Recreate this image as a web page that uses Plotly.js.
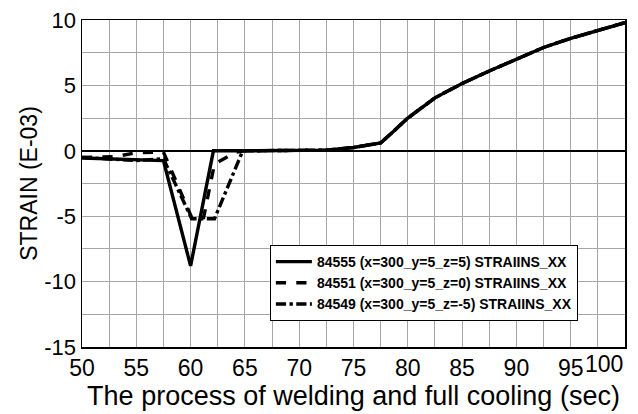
<!DOCTYPE html>
<html>
<head>
<meta charset="utf-8">
<script src="https://cdn.plot.ly/plotly-3.0.1.min.js"></script>
<style>html,body{margin:0;padding:0;background:#fff;}#chart{width:638px;height:414px;}</style>
</head>
<body>
<div id="chart"></div>
<script>
// Data
const names = [
  "84555 (x=300_y=5_z=5) STRAIINS_XX",
  "84551 (x=300_y=5_z=0) STRAIINS_XX",
  "84549 (x=300_y=5_z=-5) STRAIINS_XX"
];
const tailX = [67, 70, 72.5, 75, 77.5, 78.7, 80, 82.5, 85, 87.5, 90, 92.5, 95, 97.5, 100];
const tailY = [0, 0, 0.05, 0.25, 0.6, 1.5, 2.5, 4.05, 5.15, 6.1, 7.0, 7.9, 8.6, 9.2, 9.8];

const s1x = [50, 55, 57.5, 60, 62.1, 65];
const s1y = [-0.55, -0.65, -0.75, -8.8, 0, 0];
const s2x = [50, 53, 55, 57.5, 60.1, 61.2, 62.2, 64.2, 65];
const s2y = [-0.5, -0.45, -0.15, -0.1, -5.1, -5.1, -1.0, -0.1, 0];
const s3x = [50, 55, 57.5, 60.1, 62.2, 64.7, 65];
const s3y = [-0.5, -0.75, -0.6, -5.2, -5.2, -0.2, 0];

// Grid every 2.5, labels every 5 (100 is drawn shifted left, as in the reference)
const xGridVals = [50, 52.5, 55, 57.5, 60, 62.5, 65, 67.5, 70, 72.5, 75, 77.5, 80, 82.5, 85, 87.5, 90, 92.5, 95, 97.5, 100];
const xGridText = ["50", "", "55", "", "60", "", "65", "", "70", "", "75", "", "80", "", "85", "", "90", "", "95", "", ""];
const yGridVals = [-15, -12.5, -10, -7.5, -5, -2.5, 0, 2.5, 5, 7.5, 10];
const yGridText = ["-15", "", "-10", "", "-5", "", "0", "", "5", "", "10"];

const dashes = ["solid", "dash", "dashdot"];
const xs = [s1x.concat(tailX), s2x.concat(tailX), s3x.concat(tailX)];
const ys = [s1y.concat(tailY), s2y.concat(tailY), s3y.concat(tailY)];

const traces = names.map((n, i) => ({
  x: xs[i], y: ys[i], name: n, mode: "lines", type: "scatter",
  line: {color: "#000", width: 3.4, dash: dashes[i]}
}));

const FONT = "Liberation Sans, Arial, sans-serif";
const layout = {
  width: 638, height: 414,
  margin: {l: 82, r: 13, t: 20, b: 67},
  paper_bgcolor: "#fff", plot_bgcolor: "#fff",
  font: {family: FONT, color: "#000"},
  showlegend: true,
  legend: {
    x: 0.346, y: 0.312, xanchor: "left", yanchor: "top",
    bgcolor: "#fff", bordercolor: "#000", borderwidth: 1,
    font: {size: 14, family: FONT, weight: "bold"},
    tracegroupgap: 0, itemwidth: 36
  },
  xaxis: {
    range: [50, 100], tickmode: "array", tickvals: xGridVals, ticktext: xGridText,
    showgrid: true, gridcolor: "#a6a6a6", gridwidth: 1,
    zeroline: false, showline: true, linecolor: "#000", linewidth: 1.5, mirror: true,
    ticks: "", tickfont: {size: 23},
    title: {text: "The process of welding and full cooling (sec)", font: {size: 27}, standoff: 0}
  },
  yaxis: {
    range: [-15, 10], tickmode: "array", tickvals: yGridVals, ticktext: yGridText,
    showgrid: true, gridcolor: "#a6a6a6", gridwidth: 1,
    zeroline: true, zerolinecolor: "#000", zerolinewidth: 2,
    showline: true, linecolor: "#000", linewidth: 1.5, mirror: true,
    ticks: "", tickfont: {size: 22},
    title: {text: "STRAIN (E-03)", font: {size: 23}, standoff: 0}
  },
  annotations: [{
    text: "100", x: 100, y: 0, xref: "x", yref: "paper",
    xanchor: "right", yanchor: "top", yshift: -2, showarrow: false,
    font: {size: 23, family: FONT, color: "#000"}
  }]
};

Plotly.newPlot("chart", traces, layout, {displayModeBar: false, staticPlot: true});
</script>
</body>
</html>
